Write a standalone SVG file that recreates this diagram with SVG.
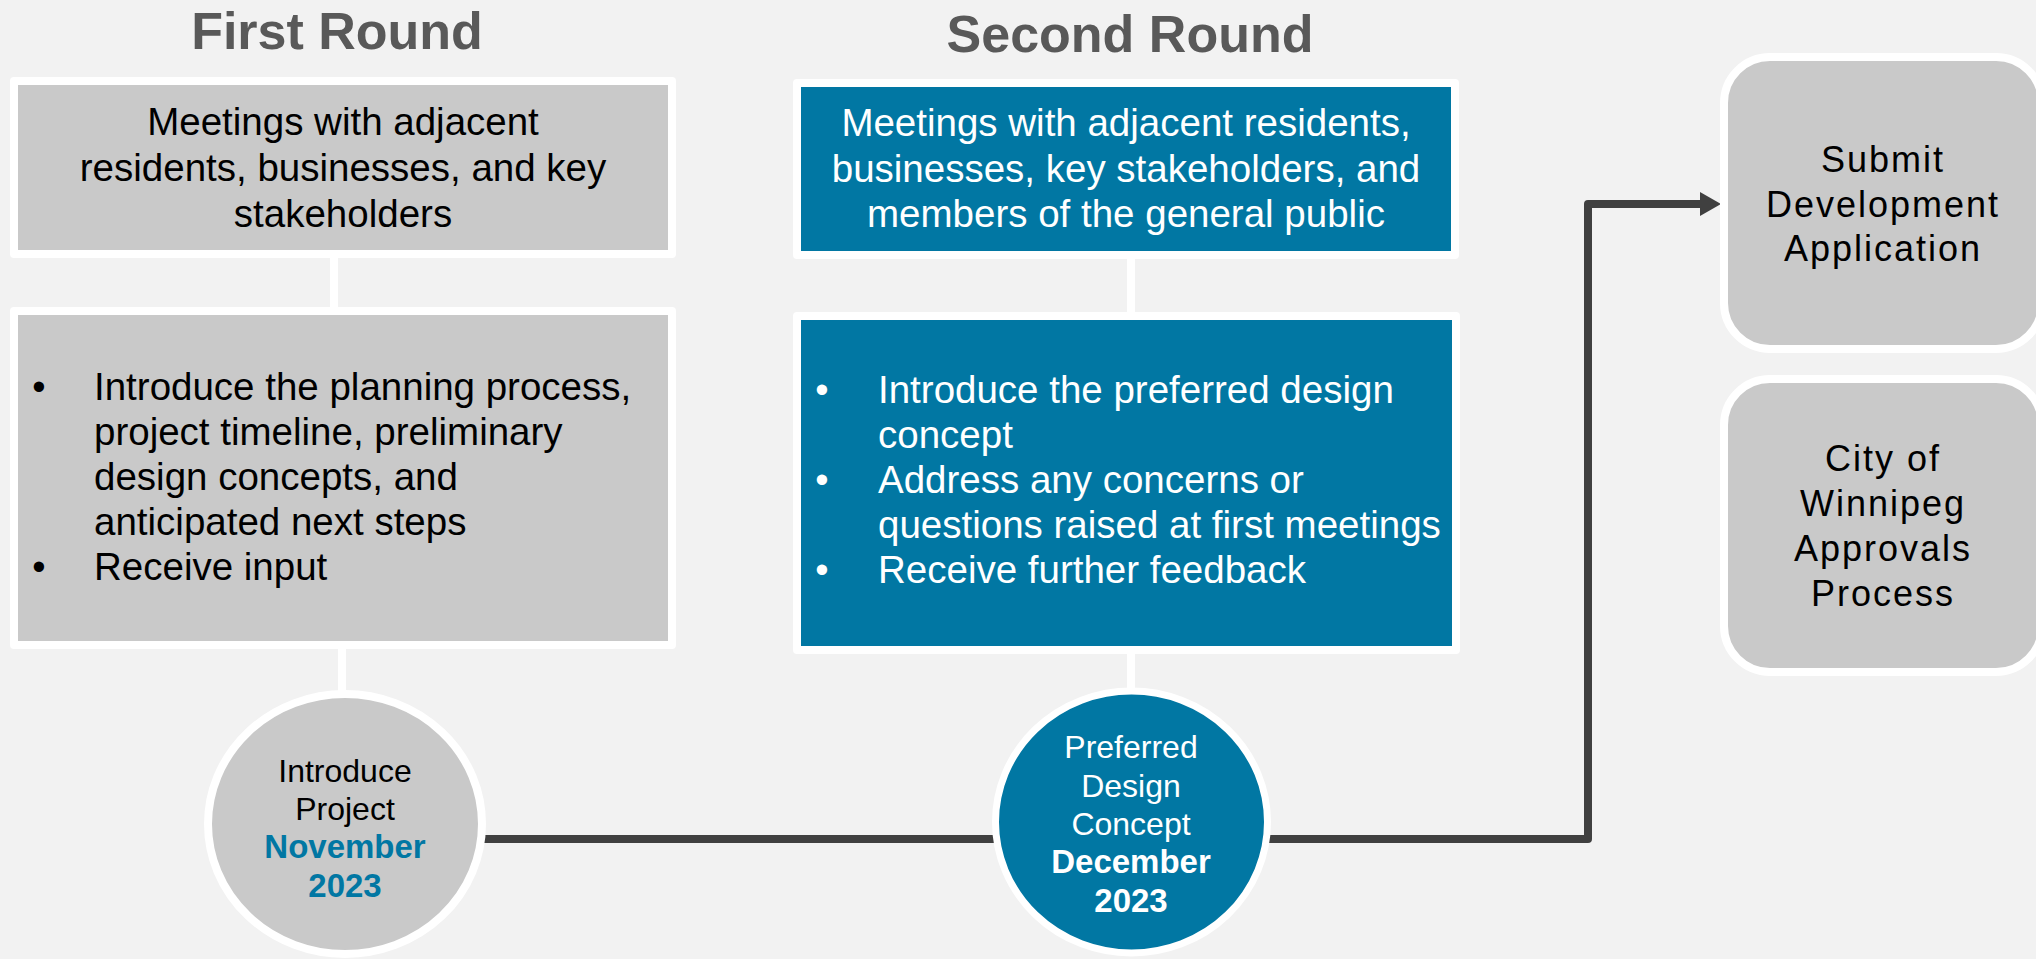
<svg xmlns="http://www.w3.org/2000/svg" width="2036" height="959" viewBox="0 0 2036 959">
  <defs>
    <style>
      text { font-family: "Liberation Sans", Arial, sans-serif; }
      .title { font-size: 52px; font-weight: bold; fill: #595959; text-anchor: middle; }
      .box-gray { fill: #c9c9c9; stroke: #ffffff; stroke-width: 8; stroke-linejoin: round; }
      .box-blue { fill: #0177a3; stroke: #ffffff; stroke-width: 8; stroke-linejoin: round; }
      .stage { fill: #c9c9c9; stroke: #ffffff; stroke-width: 8; }
      .head { font-size: 38.5px; text-anchor: middle; }
      .item { font-size: 38.5px; }
      .bullet { font-size: 38px; text-anchor: middle; }
      .dark { fill: #000000; }
      .light { fill: #ffffff; }
      .mile { font-size: 32px; text-anchor: middle; }
      .date { font-size: 33px; font-weight: bold; text-anchor: middle; }
      .stage-text { font-size: 36px; letter-spacing: 2px; text-anchor: middle; fill: #000000; }
      .link { stroke: #ffffff; stroke-width: 8; fill: none; }
      .timeline { stroke: #404040; stroke-width: 8; fill: none; stroke-linejoin: round; }
    </style>
    <marker id="arrow" markerUnits="userSpaceOnUse" markerWidth="21" markerHeight="24" viewBox="0 0 21 24" refX="0" refY="12" orient="auto">
      <path d="M0,0 L21,12 L0,24 Z" fill="#404040"/>
    </marker>
  </defs>

  <rect x="0" y="0" width="2036" height="959" fill="#f2f2f2"/>

  <!-- column headings -->
  <text class="title" x="337" y="49">First Round</text>
  <text class="title" x="1130" y="52">Second Round</text>

  <!-- connectors -->
  <g id="connectors">
    <line class="link" x1="334" y1="254" x2="334" y2="311"/>
    <line class="link" x1="342" y1="645" x2="342" y2="694"/>
    <line class="link" x1="1131" y1="255" x2="1131" y2="316"/>
    <line class="link" x1="1131" y1="650" x2="1131" y2="691"/>
    <path class="timeline" d="M470,839 H1588 V204 H1700" marker-end="url(#arrow)"/>
  </g>

  <!-- first round: meeting audience -->
  <g id="first-meetings">
    <rect class="box-gray" x="14" y="81" width="658" height="173"/>
    <text class="head dark" x="343" y="135">Meetings with adjacent</text>
    <text class="head dark" x="343" y="181">residents, businesses, and key</text>
    <text class="head dark" x="343" y="227">stakeholders</text>
  </g>

  <!-- first round: agenda -->
  <g id="first-agenda">
    <rect class="box-gray" x="14" y="311" width="658" height="334"/>
    <text class="bullet dark" x="39" y="400">•</text>
    <text class="item dark" x="94" y="400">Introduce the planning process,</text>
    <text class="item dark" x="94" y="445">project timeline, preliminary</text>
    <text class="item dark" x="94" y="490">design concepts, and</text>
    <text class="item dark" x="94" y="535">anticipated next steps</text>
    <text class="bullet dark" x="39" y="580">•</text>
    <text class="item dark" x="94" y="580">Receive input</text>
  </g>

  <!-- first round milestone -->
  <g id="milestone-november">
    <ellipse class="stage" cx="345" cy="824" rx="137" ry="130"/>
    <text class="mile dark" x="345" y="782">Introduce</text>
    <text class="mile dark" x="345" y="820">Project</text>
    <text class="date" x="345" y="858" fill="#0177a3">November</text>
    <text class="date" x="345" y="897" fill="#0177a3">2023</text>
  </g>

  <!-- second round: meeting audience -->
  <g id="second-meetings">
    <rect class="box-blue" x="797" y="83" width="658" height="172"/>
    <text class="head light" x="1126" y="136">Meetings with adjacent residents,</text>
    <text class="head light" x="1126" y="182">businesses, key stakeholders, and</text>
    <text class="head light" x="1126" y="227">members of the general public</text>
  </g>

  <!-- second round: agenda -->
  <g id="second-agenda">
    <rect class="box-blue" x="797" y="316" width="659" height="334"/>
    <text class="bullet light" x="822" y="403">•</text>
    <text class="item light" x="878" y="403">Introduce the preferred design</text>
    <text class="item light" x="878" y="448">concept</text>
    <text class="bullet light" x="822" y="493">•</text>
    <text class="item light" x="878" y="493">Address any concerns or</text>
    <text class="item light" x="878" y="538">questions raised at first meetings</text>
    <text class="bullet light" x="822" y="583">•</text>
    <text class="item light" x="878" y="583">Receive further feedback</text>
  </g>

  <!-- second round milestone -->
  <g id="milestone-december">
    <ellipse cx="1131.5" cy="822" rx="136" ry="131" fill="#0177a3" stroke="#ffffff" stroke-width="7"/>
    <text class="mile light" x="1131" y="758">Preferred</text>
    <text class="mile light" x="1131" y="797">Design</text>
    <text class="mile light" x="1131" y="835">Concept</text>
    <text class="date light" x="1131" y="873">December</text>
    <text class="date light" x="1131" y="912">2023</text>
  </g>

  <!-- application stage -->
  <g id="submit-application">
    <rect class="stage" x="1724" y="57" width="318" height="292" rx="46" ry="46"/>
    <text class="stage-text" x="1883" y="172">Submit</text>
    <text class="stage-text" x="1883" y="217">Development</text>
    <text class="stage-text" x="1883" y="261">Application</text>
  </g>

  <!-- approvals stage -->
  <g id="city-approvals">
    <rect class="stage" x="1724" y="379" width="318" height="293" rx="46" ry="46"/>
    <text class="stage-text" x="1883" y="471">City of</text>
    <text class="stage-text" x="1883" y="516">Winnipeg</text>
    <text class="stage-text" x="1883" y="561">Approvals</text>
    <text class="stage-text" x="1883" y="606">Process</text>
  </g>
</svg>
